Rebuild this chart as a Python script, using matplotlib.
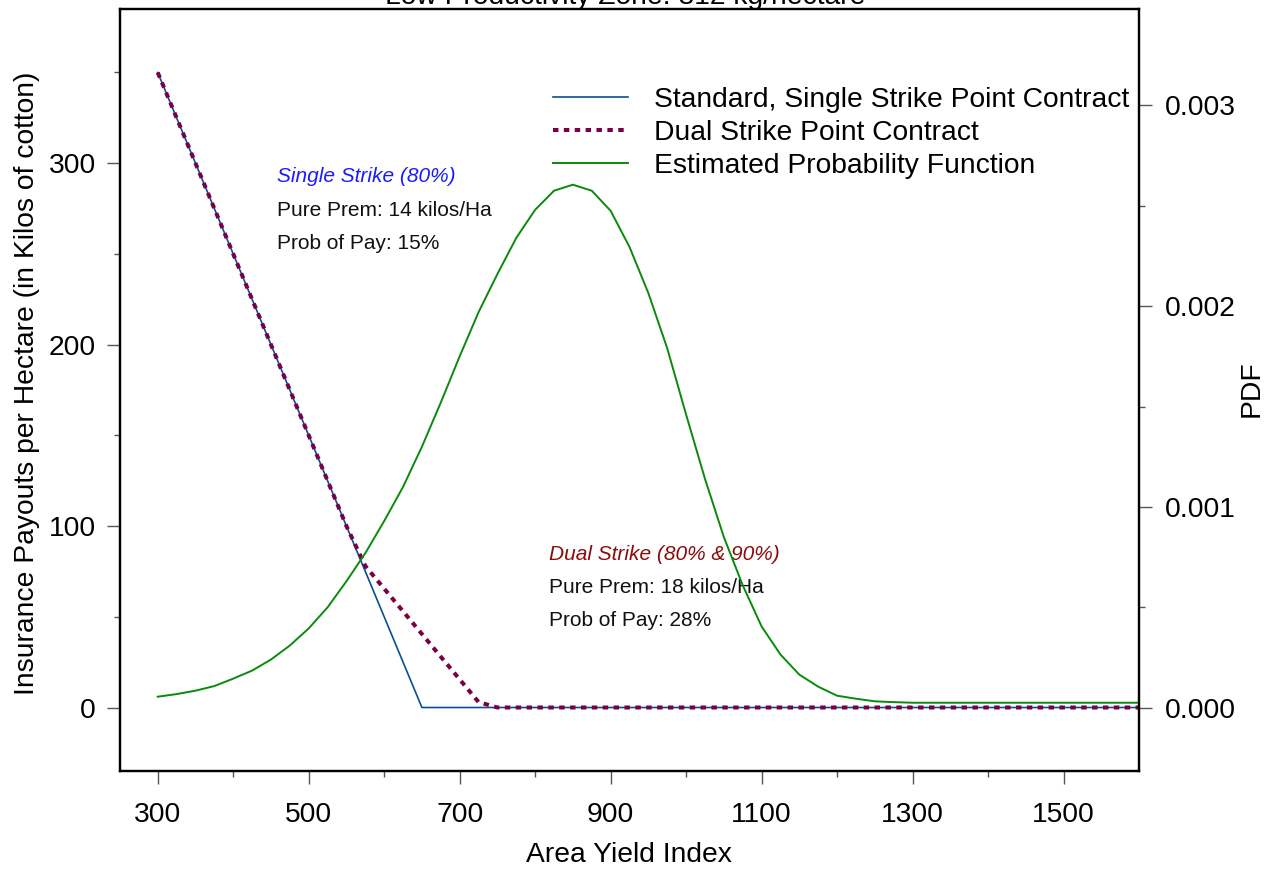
import matplotlib
matplotlib.use('Agg')
import matplotlib.pyplot as plt
from matplotlib.ticker import FixedLocator, FormatStrFormatter

plt.rcParams['font.family'] = ['Liberation Sans', 'DejaVu Sans']

# 数据
title = 'Low Productivity Zone: 812 kg/hectare'

single_x = [300, 650, 1600]
single_y = [350, 0, 0]

dual_x = [300, 550, 575, 600, 625, 650, 675, 700, 725, 750, 1600]
dual_y = [350, 100, 78, 65.5, 53, 40.5, 28, 15.5, 3, 0, 0]

pdf_x = [300, 325, 350, 375, 400, 425, 450, 475, 500, 525, 550, 575, 600,
         625, 650, 675, 700, 725, 750, 775, 800, 825, 850, 875, 900, 925,
         950, 975, 1000, 1025, 1050, 1075, 1100, 1125, 1150, 1175, 1200,
         1225, 1250, 1275, 1300, 1400, 1500, 1600]
pdf_y = [0.000055, 0.000068, 0.000085, 0.000108, 0.000145, 0.000185,
         0.00024, 0.00031, 0.000395, 0.0005, 0.00063, 0.00077, 0.00093,
         0.0011, 0.0013, 0.00152, 0.00175, 0.00197, 0.00216, 0.00234,
         0.00248, 0.002575, 0.002605, 0.002575, 0.002475, 0.002295,
         0.002065, 0.00179, 0.00146, 0.00114, 0.00085, 0.00061, 0.000405,
         0.000265, 0.000165, 0.000105, 0.00006, 0.000045, 0.000032,
         0.000028, 0.000025, 0.000025, 0.000025, 0.000025]

x_major = [300, 500, 700, 900, 1100, 1300, 1500]
x_minor = [400, 600, 800, 1000, 1200, 1400]
left_major = [0, 100, 200, 300]
left_minor = [50, 150, 250, 350]
right_major = [0.0, 0.001, 0.002, 0.003]
right_minor = [0.0005, 0.0015, 0.0025, 0.0035]

W, H = 1264, 869
FS = 20.3
fig = plt.figure(figsize=(W / 100, H / 100), dpi=100)
ax = fig.add_axes([120 / W, 1 - 771 / H, (1139 - 120) / W, (771 - 9) / H])
ax2 = ax.twinx()

l1, = ax.plot(single_x, single_y, color='#0a4f94', lw=1.2,
              label='Standard, Single Strike Point Contract')
l2, = ax.plot(dual_x, dual_y, color='#7a0045', lw=2.9, linestyle=(0, (1.35, 1.35)),
              label='Dual Strike Point Contract')
l3, = ax2.plot(pdf_x, pdf_y, color='#0a8a0a', lw=1.4,
               label='Estimated Probability Function')

ax.set_xlim(250, 1600)
ax.set_ylim(-35, 385)
ax2.set_ylim(-0.000315, 0.00348)

tick_col = '#555555'
ax.xaxis.set_major_locator(FixedLocator(x_major))
ax.xaxis.set_minor_locator(FixedLocator(x_minor))
ax.yaxis.set_major_locator(FixedLocator(left_major))
ax.yaxis.set_minor_locator(FixedLocator(left_minor))
ax2.yaxis.set_major_locator(FixedLocator(right_major))
ax2.yaxis.set_minor_locator(FixedLocator(right_minor))
ax2.yaxis.set_major_formatter(FormatStrFormatter('%.3f'))

for a in (ax, ax2):
    a.tick_params(which='major', direction='out', length=9.5, width=1,
                  color=tick_col, labelsize=FS)
    a.tick_params(which='minor', direction='out', length=4.5, width=1,
                  color=tick_col)
    for s in a.spines.values():
        s.set_color('black'); s.set_linewidth(1.6)
ax.tick_params(axis='x', which='major', pad=13)
ax.tick_params(axis='y', which='major', pad=8)
ax2.tick_params(axis='y', which='major', pad=9)

fig.text(625 / W, 1 - 4 / H, title, ha='center', va='baseline', fontsize=FS)
fig.text(629 / W, 1 - 855 / H, 'Area Yield Index', ha='center', va='center', fontsize=FS)
fig.text(27 / W, 1 - 383 / H, 'Insurance Payouts per Hectare (in Kilos of cotton)',
         ha='center', va='center', rotation=90, fontsize=FS)
fig.text(1252 / W, 1 - 389 / H, 'PDF', ha='center', va='center', rotation=90, fontsize=FS)

# 注释文字
ax.text(458, 292.6, 'Single Strike (80%)', color='#1a1aff', style='italic',
        fontsize=15, va='center')
ax.text(458, 273.9, 'Pure Prem: 14 kilos/Ha', color='#111111', fontsize=15, va='center')
ax.text(458, 255.6, 'Prob of Pay: 15%', color='#111111', fontsize=15, va='center')
ax.text(818, 84.3, 'Dual Strike (80% & 90%)', color='#8c0a0a', style='italic',
        fontsize=15, va='center')
ax.text(818, 66.1, 'Pure Prem: 18 kilos/Ha', color='#111111', fontsize=15, va='center')
ax.text(818, 47.9, 'Prob of Pay: 28%', color='#111111', fontsize=15, va='center')

ax2.legend(handles=[l1, l2, l3], loc='upper left', frameon=False, fontsize=FS,
           bbox_to_anchor=(553 / W, 1 - 87 / H), bbox_transform=fig.transFigure,
           borderaxespad=0, borderpad=0, handlelength=2.65, handletextpad=0.93,
           labelspacing=0.25)

fig.savefig('out.png', dpi=100)
